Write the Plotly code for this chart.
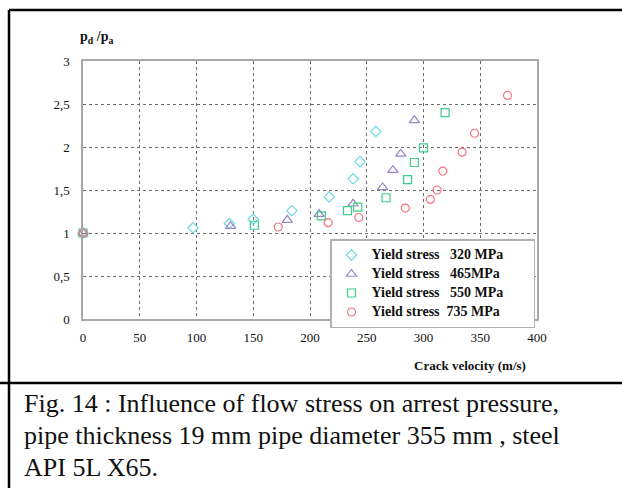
import plotly.graph_objects as go

# Crack velocity (m/s) and arrest pressure ratio pd/pa per yield stress
v_320 = [0, 97, 129, 150, 184, 217, 238, 244, 258]
p_320 = [1.0, 1.06, 1.11, 1.16, 1.26, 1.42, 1.63, 1.83, 2.18]

v_465 = [0, 130, 180, 208, 238, 264, 273, 280, 292]
p_465 = [1.0, 1.08, 1.15, 1.22, 1.34, 1.53, 1.73, 1.92, 2.31]

v_550 = [0, 151, 210, 233, 242, 267, 286, 292, 300, 319]
p_550 = [1.0, 1.09, 1.20, 1.26, 1.30, 1.41, 1.62, 1.82, 1.99, 2.40]

v_735 = [0, 172, 216, 243, 284, 306, 312, 317, 334, 345, 374]
p_735 = [1.0, 1.07, 1.12, 1.18, 1.29, 1.39, 1.50, 1.72, 1.94, 2.16, 2.60]

series_labels = [
    ("Yield stress", "320 MPa", 3),
    ("Yield stress", "465MPa", 3),
    ("Yield stress", "550 MPa", 3),
    ("Yield stress", "735 MPa", 2),
]

x_ticks = [0, 50, 100, 150, 200, 250, 300, 350, 400]
y_ticks = [0, 0.5, 1, 1.5, 2, 2.5, 3]
y_tick_text = ["0", "0,5", "1", "1,5", "2", "2,5", "3"]

caption_lines = [
    "Fig. 14 : Influence of flow stress on arrest pressure,",
    "pipe thickness 19 mm pipe diameter 355 mm , steel",
    "API 5L X65.",
]

SERIF = "Liberation Serif, Times New Roman, serif"
NB = "\u00a0"

styles = [
    ("diamond-open", "#72d8e8", 8),
    ("triangle-up-open", "#9a84c8", 9),
    ("square-open", "#3ccf8a", 8),
    ("circle-open", "#f27582", 8),
]


def legend_label(head, value, gap):
    # wider glyphs than the legend font so rows stay compact
    txt = head + NB * gap + value + NB * 7
    return '<span style="font-size:14px">' + txt + "</span>"


fig = go.Figure()
for (xs, ys), (head, value, gap), (sym, col, size) in zip(
    [(v_320, p_320), (v_465, p_465), (v_550, p_550), (v_735, p_735)],
    series_labels, styles,
):
    fig.add_trace(go.Scatter(
        x=xs, y=ys, mode="markers", name=legend_label(head, value, gap),
        marker=dict(symbol=sym, size=size, color=col,
                    line=dict(color=col, width=1.2)),
        cliponaxis=False,
    ))

W, H = 622, 488
ML, MR, MT, MB = 83, 85, 61, 169
pw, ph = W - ML - MR, H - MT - MB


def px(xpix):
    return (xpix - ML) / pw


def py(ypix):
    return (H - MB - ypix) / ph


axis_common = dict(
    showline=True, linecolor="#a8a8a8", linewidth=1.5, mirror=True,
    showgrid=True, gridcolor="#6a6a6a", gridwidth=1, griddash="dot",
    zeroline=False, ticks="", fixedrange=True,
    tickfont=dict(family=SERIF, size=13, color="#111"),
)

fig.update_xaxes(range=[0, 400], tickvals=x_ticks, ticklabelstandoff=6, **axis_common)
fig.update_yaxes(range=[0, 3], tickvals=y_ticks, ticktext=y_tick_text,
                 ticklabelstandoff=9, **axis_common)

annotations = [
    dict(text="<b>p<sub>d</sub> /p<sub>a</sub></b>", x=px(78), y=py(37),
         xanchor="left", yanchor="middle",
         font=dict(family=SERIF, size=14, color="#111")),
    dict(text="<b>Crack velocity (m/s)</b>", x=px(528), y=py(366),
         xanchor="right", yanchor="middle",
         font=dict(family=SERIF, size=13, color="#111")),
]
for i, line in enumerate(caption_lines):
    annotations.append(dict(
        text=line, x=px(22), y=py(403 + 32 * i), xanchor="left", yanchor="middle",
        font=dict(family=SERIF, size=26, color="#111"),
    ))
for a in annotations:
    a.update(xref="paper", yref="paper", showarrow=False)

# cell borders around the figure and caption
border = dict(color="#000", width=2.5)
shapes = [
    dict(type="line", x0=px(9), x1=px(W), y0=py(10), y1=py(10), line=border),
    dict(type="line", x0=px(9), x1=px(9), y0=py(10), y1=py(H), line=border),
    dict(type="line", x0=px(0), x1=px(W), y0=py(383), y1=py(383), line=border),
]
for s in shapes:
    s.update(xref="paper", yref="paper")

fig.update_layout(
    width=W, height=H,
    margin=dict(l=ML, r=MR, t=MT, b=MB),
    paper_bgcolor="white", plot_bgcolor="white",
    showlegend=True,
    legend=dict(
        x=px(330), y=py(239), xanchor="left", yanchor="top",
        xref="paper", yref="paper",
        bgcolor="white", bordercolor="#b0b0b0", borderwidth=1.5,
        font=dict(family=SERIF, size=10, color="#111", weight="bold"),
        itemwidth=30, tracegroupgap=0,
    ),
    annotations=annotations,
    shapes=shapes,
)

fig.write_html("out.html", config={"displayModeBar": False})
